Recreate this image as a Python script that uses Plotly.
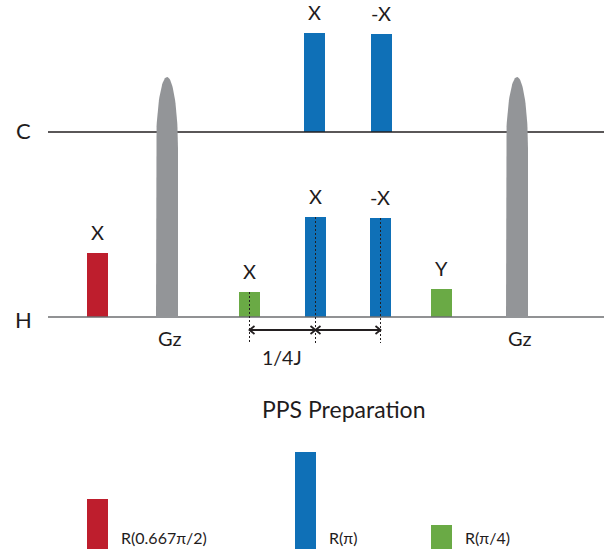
import numpy as np
import plotly.graph_objects as go

# ---------------- data ----------------
channels = ["C", "H"]
channel_level = [425, 240]          # baseline of each channel (vertical units)

# RF pulses
pulse_channel = ["H", "H", "H", "H", "H", "C", "C"]
pulse_time = [97.5, 249.5, 315.5, 380.5, 441.0, 314.5, 381.5]
pulse_amp = [64, 25, 100, 99, 28, 99, 98]
pulse_phase = ["X", "X", "X", "-X", "Y", "X", "-X"]
pulse_kind = ["R(0.667π/2)", "R(π/4)", "R(π)", "R(π)", "R(π/4)", "R(π)", "R(π)"]

# gradient pulses
grad_time = [167.0, 517.0]
grad_amp = [240, 240]
grad_label = ["Gz", "Gz"]

# delay marks (1/4J)
delay_marks = [249.5, 315.5, 380.5]
delay_label = "1/4J"

title_text = "PPS Preparation"

# legend
legend_kind = ["R(0.667π/2)", "R(π)", "R(π/4)"]
legend_amp = [50, 97, 24]

# ---------------- styles ----------------
W, H = 604, 557
FONT = "Lato, Carlito, Calibri, sans-serif"
TXT = "#1f1c1d"
kind_color = {"R(0.667π/2)": "#BE1E2D", "R(π)": "#0F70B7", "R(π/4)": "#6AAA45"}
GRAY = "#939598"
PULSE_W = 21
GRAD_W = 22
CAP = 72
level = dict(zip(channels, channel_level))

fig = go.Figure()

# channel lines
line_color = {"C": "#231F20", "H": "#6d6e71"}
for ch in channels:
    fig.add_trace(go.Scatter(x=[48, W], y=[level[ch], level[ch]], mode="lines",
                             line=dict(color=line_color[ch], width=1.5),
                             hoverinfo="skip", showlegend=False))

# gradient pulses (flat bottom, rounded top)
for t, a in zip(grad_time, grad_amp):
    base = level["H"] - 1
    top = level["H"] + a
    th = np.linspace(0, np.pi, 60)
    xs = np.concatenate([[t - GRAD_W / 2], t - GRAD_W / 2 * np.cos(th), [t + GRAD_W / 2]])
    ys = np.concatenate([[base], top - CAP + CAP * np.sin(th), [base]])
    fig.add_trace(go.Scatter(x=xs, y=ys, mode="lines", fill="toself",
                             fillcolor=GRAY, line=dict(color=GRAY, width=0),
                             hoverinfo="skip", showlegend=False))

# RF pulses
for kind in kind_color:
    idx = [i for i, k in enumerate(pulse_kind) if k == kind]
    fig.add_trace(go.Bar(
        x=[pulse_time[i] for i in idx],
        y=[pulse_amp[i] for i in idx],
        base=[level[pulse_channel[i]] for i in idx],
        width=PULSE_W, marker=dict(color=kind_color[kind], line=dict(width=0)),
        hoverinfo="skip", showlegend=False))

# legend bars
leg_x = [97.5, 305.5, 441.0]
leg_base = 8
fig.add_trace(go.Bar(x=leg_x, y=legend_amp, base=[leg_base] * len(legend_amp),
                     width=PULSE_W,
                     marker=dict(color=[kind_color[k] for k in legend_kind], line=dict(width=0)),
                     hoverinfo="skip", showlegend=False))

# dashed timing marks
hb = level["H"]
for t in delay_marks:
    i = min(range(len(pulse_time)),
            key=lambda j: abs(pulse_time[j] - t) + (0 if pulse_channel[j] == "H" else 1e3))
    top = hb + pulse_amp[i]
    fig.add_trace(go.Scatter(x=[t, t], y=[top, hb - 26], mode="lines",
                             line=dict(color="#231F20", width=1, dash="2px,2px"),
                             hoverinfo="skip", showlegend=False))

# double arrows
ay = hb - 13
ax_, ay_ = [], []
for a, b in zip(delay_marks[:-1], delay_marks[1:]):
    ax_ += [a, b, None, a + 5, a, a + 5, None, b - 5, b, b - 5, None]
    ay_ += [ay, ay, None, ay + 4, ay, ay - 4, None, ay + 4, ay, ay - 4, None]
fig.add_trace(go.Scatter(x=ax_, y=ay_, mode="lines",
                         line=dict(color="#231F20", width=1.8),
                         hoverinfo="skip", showlegend=False))

ann = []
def text(x, y, s, size, xanchor="center"):
    ann.append(dict(x=x, y=y, text=s, showarrow=False, xanchor=xanchor, yanchor="middle",
                    font=dict(family=FONT, size=size, color=TXT)))

for ch in channels:
    text(23, level[ch] + (-2 if ch == "H" else 2), ch, 22)
for t, a, ch, ph in zip(pulse_time, pulse_amp, pulse_channel, pulse_phase):
    text(t + (-1 if ph.startswith("-") else 0), level[ch] + a + 21, ph, 20)
for t, g in zip(grad_time, grad_label):
    text(t + 2, hb - 21, g, 20)
text((delay_marks[0] + delay_marks[1]) / 2 - 1, hb - 40, delay_label, 19.5)
text(343, 148, title_text, 23)
for x, k in zip(leg_x, legend_kind):
    text(x + PULSE_W / 2 + 11, 20, k, 16, xanchor="left")

fig.update_layout(
    width=W, height=H, margin=dict(l=0, r=0, t=0, b=0),
    paper_bgcolor="white", plot_bgcolor="white",
    barmode="overlay", bargap=0,
    xaxis=dict(range=[0, W], visible=False, fixedrange=True),
    yaxis=dict(range=[0, H], visible=False, fixedrange=True),
    annotations=ann, showlegend=False,
)
fig.write_html("out.html", config={"displayModeBar": False},
               post_script="document.body.style.margin='0px';document.body.style.overflow='hidden';")
